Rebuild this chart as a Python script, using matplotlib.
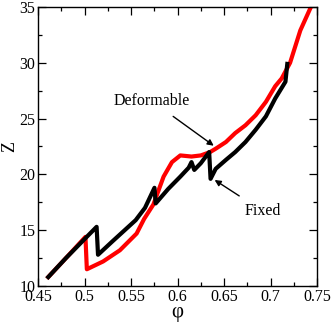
import matplotlib
matplotlib.use("Agg")
import matplotlib.pyplot as plt
from matplotlib.ticker import MultipleLocator

# packing fraction phi vs contact number Z
phi_fixed = [0.461, 0.480, 0.500, 0.513, 0.5145, 0.530, 0.555, 0.565, 0.5752, 0.5765,
             0.590, 0.603, 0.612, 0.615, 0.618, 0.625, 0.634, 0.6355, 0.641, 0.652,
             0.662, 0.673, 0.684, 0.695, 0.705, 0.716, 0.718]
z_fixed = [10.8, 12.5, 14.2, 15.3, 12.8, 14.0, 15.9, 17.0, 18.8, 17.4,
           18.7, 19.8, 20.6, 21.1, 20.4, 21.0, 22.0, 19.6, 20.5, 21.3,
           22.0, 22.9, 24.0, 25.2, 26.8, 28.3, 29.9]

phi_deform = [0.461, 0.480, 0.501, 0.5025, 0.520, 0.538, 0.556, 0.564, 0.574, 0.585,
              0.594, 0.603, 0.615, 0.625, 0.635, 0.641, 0.652, 0.662, 0.673, 0.684,
              0.695, 0.705, 0.712, 0.721, 0.732, 0.745]
z_deform = [10.8, 12.5, 14.4, 11.5, 12.2, 13.2, 14.7, 16.0, 17.3, 19.8,
            21.1, 21.7, 21.6, 21.7, 22.0, 22.3, 22.9, 23.7, 24.4, 25.3,
            26.5, 27.9, 28.6, 30.0, 32.9, 35.3]

x_ticks = [0.45, 0.5, 0.55, 0.6, 0.65, 0.7, 0.75]
x_labels = ['0.45', '0.5', '0.55', '0.6', '0.65', '0.7', '0.75']
y_ticks = [10, 15, 20, 25, 30, 35]

plt.rcParams['font.family'] = ['Liberation Serif', 'DejaVu Serif']

fig = plt.figure(figsize=(3.32, 3.25), dpi=100)
ax = fig.add_axes([0.1145, 0.12, 0.8405, 0.8585])

ax.plot(phi_deform, z_deform, color='red', lw=3.0)
ax.plot(phi_fixed, z_fixed, color='black', lw=3.0)

ax.set_xlim(0.45, 0.75)
ax.set_ylim(10, 35)
ax.set_xticks(x_ticks)
ax.set_xticklabels(x_labels)
ax.set_yticks(y_ticks)
ax.xaxis.set_minor_locator(MultipleLocator(0.025))
ax.yaxis.set_minor_locator(MultipleLocator(2.5))
ax.tick_params(which='both', direction='in', top=True, right=True, labelsize=11.5, pad=2)
ax.tick_params(which='major', length=6, width=0.9)
ax.tick_params(which='minor', length=3, width=0.9)
for s in ax.spines.values():
    s.set_linewidth(1.0)

ax.set_xlabel('φ', fontsize=15, labelpad=-1)
ax.set_ylabel('Z', fontsize=13, labelpad=1)

ax.annotate('Deformable', xy=(0.6389, 22.57), xytext=(0.572, 26.6),
            ha='center', va='center', fontsize=11.5,
            arrowprops=dict(arrowstyle='-|>', color='black', lw=1.0,
                            mutation_scale=9, shrinkA=6, shrinkB=0))
ax.annotate('Fixed', xy=(0.6399, 19.5), xytext=(0.6917, 16.7),
            ha='center', va='center', fontsize=11.5,
            arrowprops=dict(arrowstyle='-|>', color='black', lw=1.0,
                            mutation_scale=9, shrinkA=6, shrinkB=0))

fig.savefig('out.png', dpi=100)
